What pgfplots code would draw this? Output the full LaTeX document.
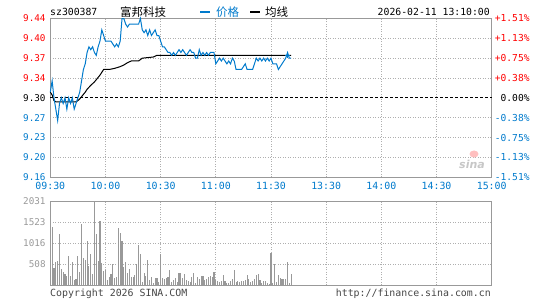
\documentclass[border=0pt]{standalone}
\usepackage{fontspec}
\setmainfont{DejaVu Sans Mono}
\newfontfamily\cjk{Noto Sans CJK SC}
\newfontfamily\sinafont{DejaVu Sans}
\usepackage{pgfplots}
\pgfplotsset{compat=1.18}
\definecolor{sblue}{RGB}{0,122,204}
\definecolor{sred}{RGB}{255,0,0}
\definecolor{sgray}{RGB}{153,153,153}
\definecolor{sgrid}{RGB}{175,175,175}
\definecolor{sdark}{RGB}{70,70,70}

\begin{document}
\begin{tikzpicture}[x=1pt,y=1pt]
\useasboundingbox (0,0) rectangle (545,300);
% ---------------- price panel ----------------
\begin{axis}[
  at={(50.3pt,122.7pt)}, anchor=south west, scale only axis,
  width=441.4pt, height=159pt,
  xmin=0, xmax=240, ymin=9.1596, ymax=9.4404,
  axis line style={sgray, line width=1.2pt},
  xtick={30,60,...,210}, xticklabels={},
  ytick={9.1947,9.2298,9.2649,9.3351,9.3702,9.4053}, yticklabels={},
  major tick length=0pt,
  grid=major,
  major grid style={sgrid, line width=0.8pt, dash pattern=on 1pt off 1.5pt},
  clip=false,
]
\addplot[black, line width=0.9pt, dash pattern=on 3pt off 2pt] coordinates {(0,9.30) (240,9.30)};
% average line
\addplot[black, line width=1pt] coordinates {
(0,9.31) (1,9.305) (2,9.295) (3,9.293) (14,9.293) (15,9.295) (16,9.298) (17,9.302)
(19,9.31) (20,9.315) (22,9.322) (24,9.328) (26,9.336) (27,9.34) (28,9.345) (29,9.35)
(32,9.35) (35,9.352) (38,9.355) (40,9.358) (42,9.362) (44,9.365) (48,9.365) (50,9.37)
(56,9.372) (58,9.375) (131,9.375)};
% price line
\addplot[sblue, line width=1pt] coordinates {
(0,9.31) (1,9.33) (2,9.30) (3,9.28) (4,9.26) (5,9.29) (6,9.30) (7,9.29) (8,9.30) (9,9.28)
(10,9.30) (11,9.29) (12,9.30) (13,9.28) (14,9.29) (15,9.30) (16,9.31) (17,9.33) (18,9.35) (19,9.36)
(20,9.38) (21,9.39) (22,9.385) (23,9.39) (24,9.38) (25,9.375) (26,9.39) (27,9.40) (28,9.42) (29,9.41)
(30,9.40) (31,9.40) (32,9.40) (33,9.40) (34,9.395) (35,9.39) (36,9.395) (37,9.39) (38,9.40) (39,9.44)
(40,9.44) (41,9.43) (42,9.425) (43,9.43) (44,9.43) (45,9.43) (46,9.43) (47,9.43) (48,9.43) (49,9.44)
(50,9.42) (51,9.415) (52,9.42) (53,9.41) (54,9.42) (55,9.41) (56,9.415) (57,9.42) (58,9.41) (59,9.41)
(60,9.40) (61,9.39) (62,9.39) (63,9.385) (64,9.38) (65,9.38) (66,9.375) (67,9.38) (68,9.375) (69,9.38)
(70,9.385) (71,9.38) (72,9.385) (73,9.38) (74,9.375) (75,9.38) (76,9.385) (77,9.38) (78,9.38) (79,9.37)
(80,9.37) (81,9.385) (82,9.375) (83,9.38) (84,9.375) (85,9.38) (86,9.375) (87,9.38) (88,9.38) (89,9.38)
(90,9.36) (91,9.365) (92,9.37) (93,9.365) (94,9.37) (95,9.365) (96,9.36) (97,9.365) (98,9.36) (99,9.37)
(100,9.365) (101,9.35) (102,9.35) (103,9.35) (104,9.35) (105,9.355) (106,9.36) (107,9.35) (108,9.35) (109,9.35)
(110,9.35) (111,9.36) (112,9.37) (113,9.365) (114,9.37) (115,9.365) (116,9.37) (117,9.365) (118,9.37) (119,9.365)
(120,9.37) (121,9.36) (122,9.36) (123,9.36) (124,9.35) (125,9.355) (126,9.36) (127,9.365) (128,9.37) (129,9.38)
(130,9.37) (131,9.37)};
\addplot[sblue, only marks, mark=+, mark size=2.5pt, line width=0.8pt] coordinates {(129,9.375)};
% left labels
\tikzset{ll/.style={anchor=east, font=\fontsize{9.3}{10}\selectfont, inner sep=0pt, xshift=-4.5pt}}
\node[ll, sred] at (axis cs:0,9.4404) {9.44};
\node[ll, sred] at (axis cs:0,9.4053) {9.40};
\node[ll, sred] at (axis cs:0,9.3702) {9.37};
\node[ll, sred] at (axis cs:0,9.3351) {9.34};
\node[ll, black] at (axis cs:0,9.30) {9.30};
\node[ll, sblue] at (axis cs:0,9.2649) {9.27};
\node[ll, sblue] at (axis cs:0,9.2298) {9.23};
\node[ll, sblue] at (axis cs:0,9.1947) {9.20};
\node[ll, sblue] at (axis cs:0,9.1596) {9.16};
% right labels
\tikzset{rl/.style={anchor=west, font=\fontsize{9.6}{10}\selectfont, inner sep=0pt, xshift=3pt}}
\node[rl, sred] at (axis cs:240,9.4404) {+1.51\%};
\node[rl, sred] at (axis cs:240,9.4053) {+1.13\%};
\node[rl, sred] at (axis cs:240,9.3702) {+0.75\%};
\node[rl, sred] at (axis cs:240,9.3351) {+0.38\%};
\node[rl, black] at (axis cs:240,9.30) {\phantom{+}0.00\%};
\node[rl, sblue] at (axis cs:240,9.2649) {-0.38\%};
\node[rl, sblue] at (axis cs:240,9.2298) {-0.75\%};
\node[rl, sblue] at (axis cs:240,9.1947) {-1.13\%};
\node[rl, sblue] at (axis cs:240,9.1596) {-1.51\%};
% time labels
\tikzset{tl/.style={anchor=center, font=\fontsize{9.9}{10}\selectfont, inner sep=0pt, sblue, yshift=-9pt}}
\node[tl] at (axis cs:0,9.1596) {09:30};
\node[tl] at (axis cs:30,9.1596) {10:00};
\node[tl] at (axis cs:60,9.1596) {10:30};
\node[tl] at (axis cs:90,9.1596) {11:00};
\node[tl] at (axis cs:120,9.1596) {11:30};
\node[tl] at (axis cs:150,9.1596) {13:30};
\node[tl] at (axis cs:180,9.1596) {14:00};
\node[tl] at (axis cs:210,9.1596) {14:30};
\node[tl] at (axis cs:240,9.1596) {15:00};
\end{axis}
% ---------------- volume panel ----------------
\begin{axis}[
  at={(50.3pt,14.7pt)}, anchor=south west, scale only axis,
  width=441.4pt, height=84pt,
  xmin=0, xmax=240, ymin=0, ymax=2031,
  axis line style={sgray, line width=1.2pt},
  xtick={30,60,...,210}, xticklabels={},
  ytick={507.75,1015.5,1523.25}, yticklabels={},
  major tick length=0pt,
  grid=major,
  major grid style={sgrid, line width=0.8pt, dash pattern=on 1pt off 1.5pt},
  clip=false,
]
\addplot[ycomb, sgray, line width=1.1pt, mark=none] coordinates {
(0,89) (1,1419) (2,427) (3,572) (4,596) (5,1241) (6,387) (7,322) (8,274) (9,234)
(10,709) (11,226) (12,572) (13,129) (14,145) (15,709) (16,330) (17,1483) (18,661) (19,613)
(20,1072) (21,476) (22,758) (23,274) (24,2031) (25,1241) (26,596) (27,1564) (28,532) (29,355)
(30,371) (31,129) (32,193) (33,274) (34,516) (35,185) (36,193) (37,1378) (38,1257) (39,1072)
(40,435) (41,556) (42,306) (43,387) (44,210) (45,210) (46,258) (47,516) (48,975) (49,758)
(50,89) (51,290) (52,226) (53,613) (54,129) (55,193) (56,48) (57,169) (58,185) (59,89)
(60,758) (61,169) (62,145) (63,169) (64,193) (65,371) (66,89) (67,129) (68,169) (69,89)
(70,306) (71,306) (72,169) (73,266) (74,129) (75,97) (76,89) (77,193) (78,290) (79,64)
(80,210) (81,161) (82,226) (83,226) (84,129) (85,145) (86,210) (87,226) (88,193) (89,330)
(90,129) (91,113) (92,89) (93,97) (94,250) (95,105) (96,48) (97,64) (98,105) (99,145)
(100,371) (101,73) (102,105) (103,89) (104,105) (105,105) (106,129) (107,250) (108,161) (109,89)
(110,113) (111,145) (112,250) (113,274) (114,129) (115,64) (116,105) (117,105) (118,48) (119,32)
(120,774) (121,48) (122,508) (123,89) (124,250) (125,169) (126,161) (127,145) (128,145) (129,564)
(130,48) (131,274)};
\tikzset{vl/.style={anchor=east, font=\fontsize{9.3}{10}\selectfont, inner sep=0pt, xshift=-4.5pt, sgray}}
\node[vl] at (axis cs:0,2031) {2031};
\node[vl] at (axis cs:0,1523.25) {1523};
\node[vl] at (axis cs:0,1015.5) {1016};
\node[vl] at (axis cs:0,507.75) {508};
\end{axis}
% ---------------- header & footer ----------------
\node[anchor=west, inner sep=0pt, font=\fontsize{9.8}{10}\selectfont] at (50,288) {sz300387};
\node[anchor=west, inner sep=0pt, font=\cjk\fontsize{11.5}{12}\selectfont] at (120,288) {富邦科技};
\fill[sblue] (200,286.5) rectangle (210,289);
\node[anchor=west, inner sep=0pt, font=\cjk\fontsize{11.5}{12}\selectfont, sblue] at (216,288) {价格};
\fill[black] (250,286.5) rectangle (260,289);
\node[anchor=west, inner sep=0pt, font=\cjk\fontsize{11.5}{12}\selectfont] at (265,288) {均线};
\node[anchor=east, inner sep=0pt, font=\fontsize{9.8}{10}\selectfont] at (490,288) {2026-02-11 13:10:00};
\node[anchor=west, inner sep=0pt, font=\fontsize{9.9}{10}\selectfont, sdark] at (50,6.5) {Copyright 2026 SINA.COM};
\node[anchor=east, inner sep=0pt, font=\fontsize{9.9}{10}\selectfont, sdark] at (491,6.5) {http://finance.sina.com.cn};
% sina watermark
\fill[red!25] (474,146) ellipse (4.5pt and 3.5pt);
\node[anchor=center, inner sep=0pt, font=\sinafont\bfseries\itshape\fontsize{11}{12}\selectfont, black!22] at (472,136) {sina};
\end{tikzpicture}
\end{document}
